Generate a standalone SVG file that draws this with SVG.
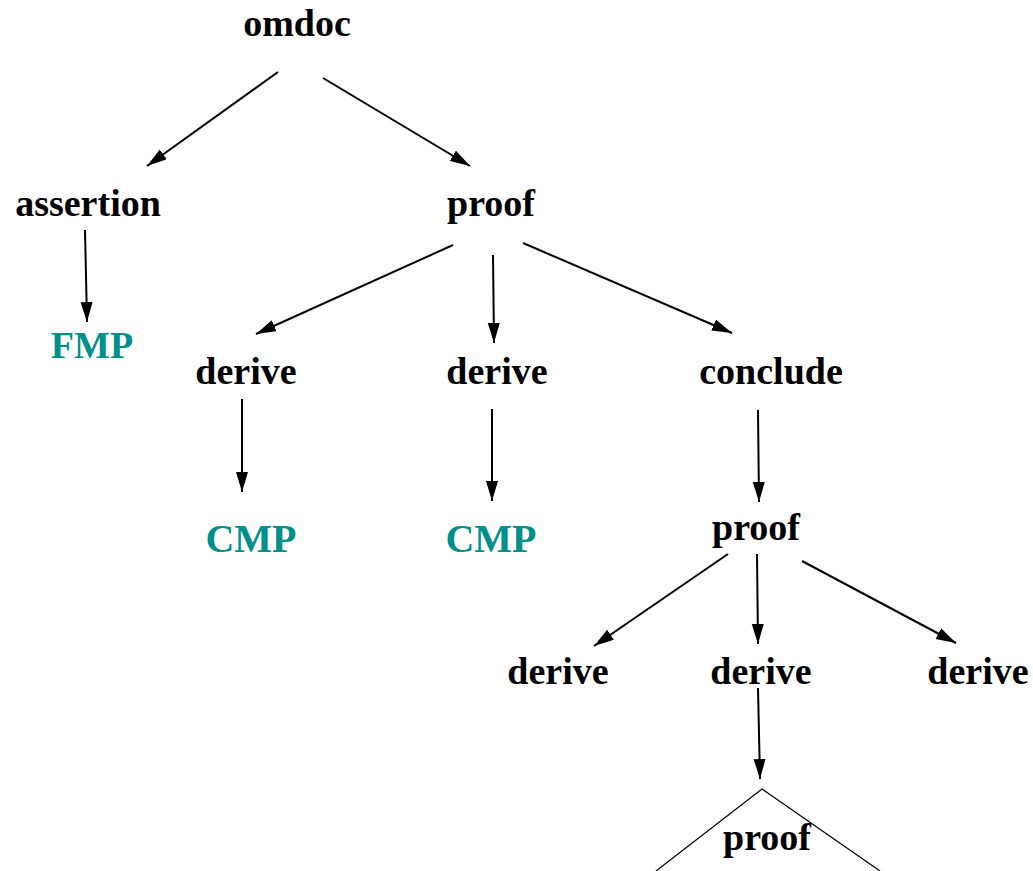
<svg xmlns="http://www.w3.org/2000/svg" width="1033" height="871" viewBox="0 0 1033 871">
<style>
.lbl{font-family:"Liberation Serif","Times New Roman",serif;font-weight:bold;font-size:38px;text-anchor:middle;fill:#000}
.teal{fill:#008f8a}
.big{font-size:40px}
.edge{stroke:#000;stroke-width:2;fill:none;marker-end:url(#ah)}
</style>
<defs>
<marker id="ah" markerUnits="userSpaceOnUse" markerWidth="22" markerHeight="14" refX="20" refY="6" orient="auto">
<path d="M0,0 L20,6 L0,12 Z" fill="#000"/>
</marker>
</defs>
<rect width="1033" height="871" fill="#fff"/>
<g id="connectors">
<line class="edge" x1="278" y1="72" x2="147" y2="166"/>
<line class="edge" x1="323" y1="78" x2="470" y2="166"/>
<line class="edge" x1="85" y1="230" x2="87" y2="322"/>
<line class="edge" x1="453" y1="245" x2="256" y2="334"/>
<line class="edge" x1="493" y1="255" x2="494" y2="343"/>
<line class="edge" x1="523" y1="243" x2="732" y2="333"/>
<line class="edge" x1="242" y1="399" x2="242" y2="492"/>
<line class="edge" x1="492" y1="409" x2="492" y2="501"/>
<line class="edge" x1="758" y1="410" x2="759" y2="502"/>
<line class="edge" x1="728" y1="554" x2="594" y2="646"/>
<line class="edge" x1="757" y1="554" x2="758" y2="644"/>
<line class="edge" x1="802" y1="561" x2="956" y2="643"/>
<line class="edge" x1="758" y1="688" x2="760" y2="779"/>
</g>
<g id="omdoc"><text class="lbl" x="297" y="36">omdoc</text></g>
<g id="assertion"><text class="lbl" x="88" y="216">assertion</text></g>
<g id="proof1"><text class="lbl" x="491" y="216">proof</text></g>
<g id="fmp"><text class="lbl teal" x="92" y="358">FMP</text></g>
<g id="derive1"><text class="lbl" x="246" y="384">derive</text></g>
<g id="derive2"><text class="lbl" x="497" y="384">derive</text></g>
<g id="conclude"><text class="lbl" x="771" y="384">conclude</text></g>
<g id="cmp1"><text class="lbl teal big" x="251" y="552">CMP</text></g>
<g id="cmp2"><text class="lbl teal big" x="491" y="552">CMP</text></g>
<g id="proof2"><text class="lbl" x="756" y="540">proof</text></g>
<g id="derive3"><text class="lbl" x="558" y="684">derive</text></g>
<g id="derive4"><text class="lbl" x="761" y="684">derive</text></g>
<g id="derive5"><text class="lbl" x="978" y="684">derive</text></g>
<g id="proof3">
<polyline points="656,871 762,789 880,871" fill="none" stroke="#000" stroke-width="1.2"/>
<text class="lbl" x="767" y="850">proof</text>
</g>
</svg>
